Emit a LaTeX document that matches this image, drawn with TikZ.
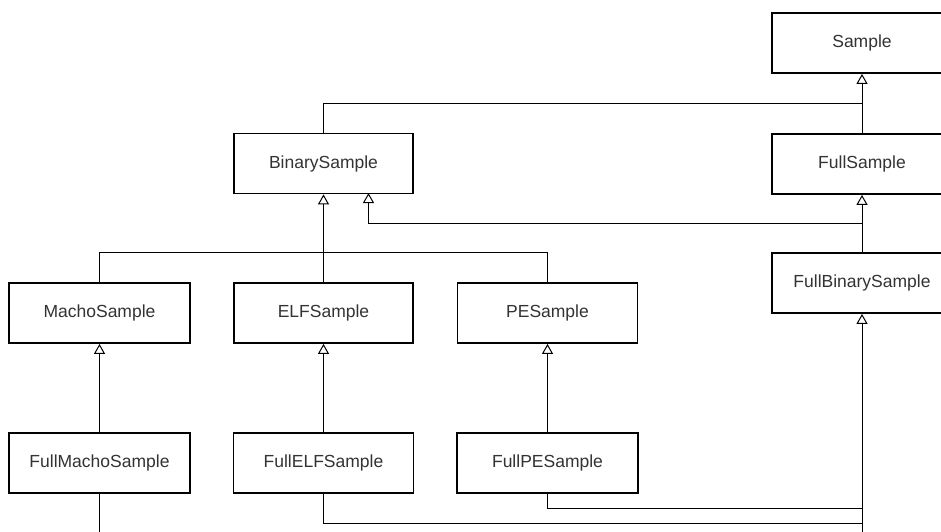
\documentclass[tikz,border=0pt]{standalone}
\usepackage{fontspec}
\setmainfont{Liberation Sans}
\usetikzlibrary{arrows.meta}
\definecolor{txt}{HTML}{333333}
\begin{document}
\begin{tikzpicture}[x=1pt,y=-1pt,
  cls/.style={draw=black, line width=1.8pt, fill=white, minimum width=180pt, minimum height=60pt, inner sep=0pt, font=\fontsize{17.5}{20}\selectfont, text=txt},
  conn/.style={draw=black, line width=1pt},
  inh/.style={conn, -{Triangle[open, length=10pt, width=11pt, line width=1pt]}}]
\path[use as bounding box, clip] (0,0) rectangle (941,531);
\fill[white] (0,0) rectangle (941,531);
% nodes
\node[cls] (S) at (862,43) {Sample};
\node[cls] (FS) at (862,164) {FullSample};
\node[cls] (FBS) at (862,283) {FullBinarySample};
\node[cls, minimum width=179pt] (BS) at (323.5,163.5) {BinarySample};
\node[cls, minimum width=181pt] (MS) at (99.5,313) {MachoSample};
\node[cls, minimum width=179pt] (ES) at (323.5,313) {ELFSample};
\node[cls, minimum width=180pt] (PS) at (547.5,313) {PESample};
\node[cls, minimum width=181pt] (FMS) at (99.5,463) {FullMachoSample};
\node[cls, minimum width=180pt] (FES) at (323.5,463) {FullELFSample};
\node[cls, minimum width=181pt] (FPS) at (547.5,463) {FullPESample};
% junctions
\coordinate (j1) at (862,103);
\coordinate (j2) at (862,223);
\coordinate (j3) at (862,545);
\coordinate (bs2) at (368.5,193);
% connectors
\draw[inh] (FS.north) -- (S.south);
\draw[conn] (BS.north) |- (j1);
\draw[inh] (FBS.north) -- (FS.south);
\draw[inh] (j2) -| (bs2);
\draw[inh] (ES.north) -- (BS.south);
\draw[conn] (MS.north) -- ++(0,-30) -| (PS.north);
\draw[inh] (FMS.north) -- (MS.south);
\draw[inh] (FES.north) -- (ES.south);
\draw[inh] (FPS.north) -- (PS.south);
\draw[inh] (j3) -- (FBS.south);
\draw[conn] (FPS.south) -- ++(0,15) -| (j3);
\draw[conn] (FES.south) -- ++(0,30) -| (j3);
\draw[conn] (FMS.south) -- ++(0,52) -| (j3);
\end{tikzpicture}
\end{document}
